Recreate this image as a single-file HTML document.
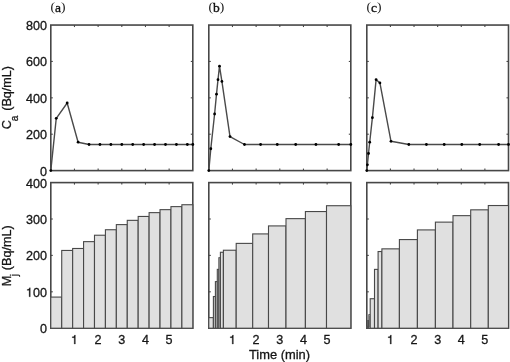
<!DOCTYPE html>
<html><head><meta charset="utf-8"><style>
html,body{margin:0;padding:0;background:#fff;}
body{width:510px;height:362px;overflow:hidden;font-family:"Liberation Sans",sans-serif;}
svg{display:block;will-change:transform;}
</style></head><body>
<svg width="510" height="362" viewBox="0 0 510 362">
<rect width="510" height="362" fill="#fff"/>
<rect x="50.8" y="25.05" width="142" height="145.55" fill="none" stroke="#474747" stroke-width="1.6"/>
<line x1="74.47" y1="170.6" x2="74.47" y2="168.6" stroke="#474747" stroke-width="1.1"/>
<line x1="74.47" y1="25.05" x2="74.47" y2="27.05" stroke="#474747" stroke-width="1.1"/>
<line x1="98.13" y1="170.6" x2="98.13" y2="168.6" stroke="#474747" stroke-width="1.1"/>
<line x1="98.13" y1="25.05" x2="98.13" y2="27.05" stroke="#474747" stroke-width="1.1"/>
<line x1="121.8" y1="170.6" x2="121.8" y2="168.6" stroke="#474747" stroke-width="1.1"/>
<line x1="121.8" y1="25.05" x2="121.8" y2="27.05" stroke="#474747" stroke-width="1.1"/>
<line x1="145.47" y1="170.6" x2="145.47" y2="168.6" stroke="#474747" stroke-width="1.1"/>
<line x1="145.47" y1="25.05" x2="145.47" y2="27.05" stroke="#474747" stroke-width="1.1"/>
<line x1="169.13" y1="170.6" x2="169.13" y2="168.6" stroke="#474747" stroke-width="1.1"/>
<line x1="169.13" y1="25.05" x2="169.13" y2="27.05" stroke="#474747" stroke-width="1.1"/>
<line x1="50.8" y1="134.21" x2="52.8" y2="134.21" stroke="#474747" stroke-width="1.1"/>
<line x1="192.8" y1="134.21" x2="190.8" y2="134.21" stroke="#474747" stroke-width="1.1"/>
<line x1="50.8" y1="97.83" x2="52.8" y2="97.83" stroke="#474747" stroke-width="1.1"/>
<line x1="192.8" y1="97.83" x2="190.8" y2="97.83" stroke="#474747" stroke-width="1.1"/>
<line x1="50.8" y1="61.44" x2="52.8" y2="61.44" stroke="#474747" stroke-width="1.1"/>
<line x1="192.8" y1="61.44" x2="190.8" y2="61.44" stroke="#474747" stroke-width="1.1"/>
<rect x="50.8" y="182.6" width="142" height="145.6" fill="none" stroke="#474747" stroke-width="1.6"/>
<line x1="74.47" y1="328.2" x2="74.47" y2="326.2" stroke="#474747" stroke-width="1.1"/>
<line x1="74.47" y1="182.6" x2="74.47" y2="184.6" stroke="#474747" stroke-width="1.1"/>
<line x1="98.13" y1="328.2" x2="98.13" y2="326.2" stroke="#474747" stroke-width="1.1"/>
<line x1="98.13" y1="182.6" x2="98.13" y2="184.6" stroke="#474747" stroke-width="1.1"/>
<line x1="121.8" y1="328.2" x2="121.8" y2="326.2" stroke="#474747" stroke-width="1.1"/>
<line x1="121.8" y1="182.6" x2="121.8" y2="184.6" stroke="#474747" stroke-width="1.1"/>
<line x1="145.47" y1="328.2" x2="145.47" y2="326.2" stroke="#474747" stroke-width="1.1"/>
<line x1="145.47" y1="182.6" x2="145.47" y2="184.6" stroke="#474747" stroke-width="1.1"/>
<line x1="169.13" y1="328.2" x2="169.13" y2="326.2" stroke="#474747" stroke-width="1.1"/>
<line x1="169.13" y1="182.6" x2="169.13" y2="184.6" stroke="#474747" stroke-width="1.1"/>
<line x1="50.8" y1="291.8" x2="52.8" y2="291.8" stroke="#474747" stroke-width="1.1"/>
<line x1="192.8" y1="291.8" x2="190.8" y2="291.8" stroke="#474747" stroke-width="1.1"/>
<line x1="50.8" y1="255.4" x2="52.8" y2="255.4" stroke="#474747" stroke-width="1.1"/>
<line x1="192.8" y1="255.4" x2="190.8" y2="255.4" stroke="#474747" stroke-width="1.1"/>
<line x1="50.8" y1="219" x2="52.8" y2="219" stroke="#474747" stroke-width="1.1"/>
<line x1="192.8" y1="219" x2="190.8" y2="219" stroke="#474747" stroke-width="1.1"/>
<rect x="208.8" y="25.05" width="142" height="145.55" fill="none" stroke="#474747" stroke-width="1.6"/>
<line x1="232.47" y1="170.6" x2="232.47" y2="168.6" stroke="#474747" stroke-width="1.1"/>
<line x1="232.47" y1="25.05" x2="232.47" y2="27.05" stroke="#474747" stroke-width="1.1"/>
<line x1="256.13" y1="170.6" x2="256.13" y2="168.6" stroke="#474747" stroke-width="1.1"/>
<line x1="256.13" y1="25.05" x2="256.13" y2="27.05" stroke="#474747" stroke-width="1.1"/>
<line x1="279.8" y1="170.6" x2="279.8" y2="168.6" stroke="#474747" stroke-width="1.1"/>
<line x1="279.8" y1="25.05" x2="279.8" y2="27.05" stroke="#474747" stroke-width="1.1"/>
<line x1="303.47" y1="170.6" x2="303.47" y2="168.6" stroke="#474747" stroke-width="1.1"/>
<line x1="303.47" y1="25.05" x2="303.47" y2="27.05" stroke="#474747" stroke-width="1.1"/>
<line x1="327.13" y1="170.6" x2="327.13" y2="168.6" stroke="#474747" stroke-width="1.1"/>
<line x1="327.13" y1="25.05" x2="327.13" y2="27.05" stroke="#474747" stroke-width="1.1"/>
<line x1="208.8" y1="134.21" x2="210.8" y2="134.21" stroke="#474747" stroke-width="1.1"/>
<line x1="350.8" y1="134.21" x2="348.8" y2="134.21" stroke="#474747" stroke-width="1.1"/>
<line x1="208.8" y1="97.83" x2="210.8" y2="97.83" stroke="#474747" stroke-width="1.1"/>
<line x1="350.8" y1="97.83" x2="348.8" y2="97.83" stroke="#474747" stroke-width="1.1"/>
<line x1="208.8" y1="61.44" x2="210.8" y2="61.44" stroke="#474747" stroke-width="1.1"/>
<line x1="350.8" y1="61.44" x2="348.8" y2="61.44" stroke="#474747" stroke-width="1.1"/>
<rect x="208.8" y="182.6" width="142" height="145.6" fill="none" stroke="#474747" stroke-width="1.6"/>
<line x1="232.47" y1="328.2" x2="232.47" y2="326.2" stroke="#474747" stroke-width="1.1"/>
<line x1="232.47" y1="182.6" x2="232.47" y2="184.6" stroke="#474747" stroke-width="1.1"/>
<line x1="256.13" y1="328.2" x2="256.13" y2="326.2" stroke="#474747" stroke-width="1.1"/>
<line x1="256.13" y1="182.6" x2="256.13" y2="184.6" stroke="#474747" stroke-width="1.1"/>
<line x1="279.8" y1="328.2" x2="279.8" y2="326.2" stroke="#474747" stroke-width="1.1"/>
<line x1="279.8" y1="182.6" x2="279.8" y2="184.6" stroke="#474747" stroke-width="1.1"/>
<line x1="303.47" y1="328.2" x2="303.47" y2="326.2" stroke="#474747" stroke-width="1.1"/>
<line x1="303.47" y1="182.6" x2="303.47" y2="184.6" stroke="#474747" stroke-width="1.1"/>
<line x1="327.13" y1="328.2" x2="327.13" y2="326.2" stroke="#474747" stroke-width="1.1"/>
<line x1="327.13" y1="182.6" x2="327.13" y2="184.6" stroke="#474747" stroke-width="1.1"/>
<line x1="208.8" y1="291.8" x2="210.8" y2="291.8" stroke="#474747" stroke-width="1.1"/>
<line x1="350.8" y1="291.8" x2="348.8" y2="291.8" stroke="#474747" stroke-width="1.1"/>
<line x1="208.8" y1="255.4" x2="210.8" y2="255.4" stroke="#474747" stroke-width="1.1"/>
<line x1="350.8" y1="255.4" x2="348.8" y2="255.4" stroke="#474747" stroke-width="1.1"/>
<line x1="208.8" y1="219" x2="210.8" y2="219" stroke="#474747" stroke-width="1.1"/>
<line x1="350.8" y1="219" x2="348.8" y2="219" stroke="#474747" stroke-width="1.1"/>
<rect x="366.8" y="25.05" width="141.7" height="145.55" fill="none" stroke="#474747" stroke-width="1.6"/>
<line x1="390.42" y1="170.6" x2="390.42" y2="168.6" stroke="#474747" stroke-width="1.1"/>
<line x1="390.42" y1="25.05" x2="390.42" y2="27.05" stroke="#474747" stroke-width="1.1"/>
<line x1="414.03" y1="170.6" x2="414.03" y2="168.6" stroke="#474747" stroke-width="1.1"/>
<line x1="414.03" y1="25.05" x2="414.03" y2="27.05" stroke="#474747" stroke-width="1.1"/>
<line x1="437.65" y1="170.6" x2="437.65" y2="168.6" stroke="#474747" stroke-width="1.1"/>
<line x1="437.65" y1="25.05" x2="437.65" y2="27.05" stroke="#474747" stroke-width="1.1"/>
<line x1="461.27" y1="170.6" x2="461.27" y2="168.6" stroke="#474747" stroke-width="1.1"/>
<line x1="461.27" y1="25.05" x2="461.27" y2="27.05" stroke="#474747" stroke-width="1.1"/>
<line x1="484.88" y1="170.6" x2="484.88" y2="168.6" stroke="#474747" stroke-width="1.1"/>
<line x1="484.88" y1="25.05" x2="484.88" y2="27.05" stroke="#474747" stroke-width="1.1"/>
<line x1="366.8" y1="134.21" x2="368.8" y2="134.21" stroke="#474747" stroke-width="1.1"/>
<line x1="508.5" y1="134.21" x2="506.5" y2="134.21" stroke="#474747" stroke-width="1.1"/>
<line x1="366.8" y1="97.83" x2="368.8" y2="97.83" stroke="#474747" stroke-width="1.1"/>
<line x1="508.5" y1="97.83" x2="506.5" y2="97.83" stroke="#474747" stroke-width="1.1"/>
<line x1="366.8" y1="61.44" x2="368.8" y2="61.44" stroke="#474747" stroke-width="1.1"/>
<line x1="508.5" y1="61.44" x2="506.5" y2="61.44" stroke="#474747" stroke-width="1.1"/>
<rect x="366.8" y="182.6" width="141.7" height="145.6" fill="none" stroke="#474747" stroke-width="1.6"/>
<line x1="390.42" y1="328.2" x2="390.42" y2="326.2" stroke="#474747" stroke-width="1.1"/>
<line x1="390.42" y1="182.6" x2="390.42" y2="184.6" stroke="#474747" stroke-width="1.1"/>
<line x1="414.03" y1="328.2" x2="414.03" y2="326.2" stroke="#474747" stroke-width="1.1"/>
<line x1="414.03" y1="182.6" x2="414.03" y2="184.6" stroke="#474747" stroke-width="1.1"/>
<line x1="437.65" y1="328.2" x2="437.65" y2="326.2" stroke="#474747" stroke-width="1.1"/>
<line x1="437.65" y1="182.6" x2="437.65" y2="184.6" stroke="#474747" stroke-width="1.1"/>
<line x1="461.27" y1="328.2" x2="461.27" y2="326.2" stroke="#474747" stroke-width="1.1"/>
<line x1="461.27" y1="182.6" x2="461.27" y2="184.6" stroke="#474747" stroke-width="1.1"/>
<line x1="484.88" y1="328.2" x2="484.88" y2="326.2" stroke="#474747" stroke-width="1.1"/>
<line x1="484.88" y1="182.6" x2="484.88" y2="184.6" stroke="#474747" stroke-width="1.1"/>
<line x1="366.8" y1="291.8" x2="368.8" y2="291.8" stroke="#474747" stroke-width="1.1"/>
<line x1="508.5" y1="291.8" x2="506.5" y2="291.8" stroke="#474747" stroke-width="1.1"/>
<line x1="366.8" y1="255.4" x2="368.8" y2="255.4" stroke="#474747" stroke-width="1.1"/>
<line x1="508.5" y1="255.4" x2="506.5" y2="255.4" stroke="#474747" stroke-width="1.1"/>
<line x1="366.8" y1="219" x2="368.8" y2="219" stroke="#474747" stroke-width="1.1"/>
<line x1="508.5" y1="219" x2="506.5" y2="219" stroke="#474747" stroke-width="1.1"/>
<rect x="50.8" y="297.08" width="10.92" height="31.12" fill="#e0e0e0" stroke="#484848" stroke-width="1.1"/>
<rect x="61.72" y="250.45" width="10.92" height="77.75" fill="#e0e0e0" stroke="#484848" stroke-width="1.1"/>
<rect x="72.65" y="248.48" width="10.92" height="79.72" fill="#e0e0e0" stroke="#484848" stroke-width="1.1"/>
<rect x="83.57" y="241.64" width="10.92" height="86.56" fill="#e0e0e0" stroke="#484848" stroke-width="1.1"/>
<rect x="94.49" y="235.23" width="10.92" height="92.97" fill="#e0e0e0" stroke="#484848" stroke-width="1.1"/>
<rect x="105.42" y="229.74" width="10.92" height="98.46" fill="#e0e0e0" stroke="#484848" stroke-width="1.1"/>
<rect x="116.34" y="224.61" width="10.92" height="103.59" fill="#e0e0e0" stroke="#484848" stroke-width="1.1"/>
<rect x="127.26" y="220.35" width="10.92" height="107.85" fill="#e0e0e0" stroke="#484848" stroke-width="1.1"/>
<rect x="138.18" y="216.45" width="10.92" height="111.75" fill="#e0e0e0" stroke="#484848" stroke-width="1.1"/>
<rect x="149.11" y="212.63" width="10.92" height="115.57" fill="#e0e0e0" stroke="#484848" stroke-width="1.1"/>
<rect x="160.03" y="209.65" width="10.92" height="118.55" fill="#e0e0e0" stroke="#484848" stroke-width="1.1"/>
<rect x="170.95" y="206.62" width="10.92" height="121.58" fill="#e0e0e0" stroke="#484848" stroke-width="1.1"/>
<rect x="181.88" y="204.73" width="10.92" height="123.47" fill="#e0e0e0" stroke="#484848" stroke-width="1.1"/>
<rect x="208.8" y="317.64" width="4.6" height="10.56" fill="#e0e0e0" stroke="#484848" stroke-width="1.1"/>
<rect x="213.4" y="296.53" width="2" height="31.67" fill="#e0e0e0" stroke="#484848" stroke-width="1.1"/>
<rect x="215.4" y="281.61" width="1.9" height="46.59" fill="#e0e0e0" stroke="#484848" stroke-width="1.1"/>
<rect x="217.3" y="269.38" width="1.6" height="58.82" fill="#e0e0e0" stroke="#484848" stroke-width="1.1"/>
<rect x="218.9" y="257.77" width="1.5" height="70.43" fill="#e0e0e0" stroke="#484848" stroke-width="1.1"/>
<rect x="220.4" y="252.27" width="3" height="75.93" fill="#e0e0e0" stroke="#484848" stroke-width="1.1"/>
<rect x="223.4" y="250.23" width="12.8" height="77.97" fill="#e0e0e0" stroke="#484848" stroke-width="1.1"/>
<rect x="236.2" y="243.39" width="16.5" height="84.81" fill="#e0e0e0" stroke="#484848" stroke-width="1.1"/>
<rect x="252.7" y="233.92" width="15.8" height="94.28" fill="#e0e0e0" stroke="#484848" stroke-width="1.1"/>
<rect x="268.5" y="225.92" width="17.5" height="102.28" fill="#e0e0e0" stroke="#484848" stroke-width="1.1"/>
<rect x="286" y="218.64" width="19.4" height="109.56" fill="#e0e0e0" stroke="#484848" stroke-width="1.1"/>
<rect x="305.4" y="211.54" width="21.1" height="116.66" fill="#e0e0e0" stroke="#484848" stroke-width="1.1"/>
<rect x="326.5" y="205.71" width="24.3" height="122.49" fill="#e0e0e0" stroke="#484848" stroke-width="1.1"/>
<rect x="366.8" y="326.38" width="1" height="1.82" fill="#e0e0e0" stroke="#484848" stroke-width="1.1"/>
<rect x="367.8" y="320.56" width="1.1" height="7.64" fill="#e0e0e0" stroke="#484848" stroke-width="1.1"/>
<rect x="368.9" y="314.73" width="1.3" height="13.47" fill="#e0e0e0" stroke="#484848" stroke-width="1.1"/>
<rect x="370.2" y="298.72" width="4.3" height="29.48" fill="#e0e0e0" stroke="#484848" stroke-width="1.1"/>
<rect x="374.5" y="269.38" width="3.6" height="58.82" fill="#e0e0e0" stroke="#484848" stroke-width="1.1"/>
<rect x="378.1" y="251.54" width="3.8" height="76.66" fill="#e0e0e0" stroke="#484848" stroke-width="1.1"/>
<rect x="381.9" y="248.85" width="17.5" height="79.35" fill="#e0e0e0" stroke="#484848" stroke-width="1.1"/>
<rect x="399.4" y="239.57" width="18" height="88.63" fill="#e0e0e0" stroke="#484848" stroke-width="1.1"/>
<rect x="417.4" y="229.92" width="18" height="98.28" fill="#e0e0e0" stroke="#484848" stroke-width="1.1"/>
<rect x="435.4" y="222.13" width="17.6" height="106.07" fill="#e0e0e0" stroke="#484848" stroke-width="1.1"/>
<rect x="453" y="215.65" width="17.7" height="112.55" fill="#e0e0e0" stroke="#484848" stroke-width="1.1"/>
<rect x="470.7" y="209.83" width="17.6" height="118.37" fill="#e0e0e0" stroke="#484848" stroke-width="1.1"/>
<rect x="488.3" y="205.53" width="20.2" height="122.67" fill="#e0e0e0" stroke="#484848" stroke-width="1.1"/>
<path d="M50.8 170.6 L56.26 118.29 L67.18 102.99 L78.11 142.22 L89.03 144.49 L99.95 144.49 L110.88 144.49 L121.8 144.49 L132.72 144.49 L143.65 144.49 L154.57 144.49 L165.49 144.49 L176.42 144.49 L187.34 144.49 L192.8 144.49" fill="none" stroke="#4a4a4a" stroke-width="1.4" stroke-linejoin="round"/>
<circle cx="50.8" cy="170.6" r="1.4" fill="#000"/>
<circle cx="56.26" cy="118.29" r="1.4" fill="#000"/>
<circle cx="67.18" cy="102.99" r="1.4" fill="#000"/>
<circle cx="78.11" cy="142.22" r="1.4" fill="#000"/>
<circle cx="89.03" cy="144.49" r="1.4" fill="#000"/>
<circle cx="99.95" cy="144.49" r="1.4" fill="#000"/>
<circle cx="110.88" cy="144.49" r="1.4" fill="#000"/>
<circle cx="121.8" cy="144.49" r="1.4" fill="#000"/>
<circle cx="132.72" cy="144.49" r="1.4" fill="#000"/>
<circle cx="143.65" cy="144.49" r="1.4" fill="#000"/>
<circle cx="154.57" cy="144.49" r="1.4" fill="#000"/>
<circle cx="165.49" cy="144.49" r="1.4" fill="#000"/>
<circle cx="176.42" cy="144.49" r="1.4" fill="#000"/>
<circle cx="187.34" cy="144.49" r="1.4" fill="#000"/>
<circle cx="192.8" cy="144.49" r="1.4" fill="#000"/>
<path d="M208.8 170.6 L210.8 148.77 L214.6 114.02 L216.5 94.19 L218 79.63 L219.5 66.17 L221.9 81.45 L230 136.58 L244.45 144.49 L260.6 144.49 L277.25 144.49 L295.7 144.49 L315.95 144.49 L338.65 144.49 L350.8 144.49" fill="none" stroke="#4a4a4a" stroke-width="1.4" stroke-linejoin="round"/>
<circle cx="208.8" cy="170.6" r="1.4" fill="#000"/>
<circle cx="210.8" cy="148.77" r="1.4" fill="#000"/>
<circle cx="214.6" cy="114.02" r="1.4" fill="#000"/>
<circle cx="216.5" cy="94.19" r="1.4" fill="#000"/>
<circle cx="218" cy="79.63" r="1.4" fill="#000"/>
<circle cx="219.5" cy="66.17" r="1.4" fill="#000"/>
<circle cx="221.9" cy="81.45" r="1.4" fill="#000"/>
<circle cx="230" cy="136.58" r="1.4" fill="#000"/>
<circle cx="244.45" cy="144.49" r="1.4" fill="#000"/>
<circle cx="260.6" cy="144.49" r="1.4" fill="#000"/>
<circle cx="277.25" cy="144.49" r="1.4" fill="#000"/>
<circle cx="295.7" cy="144.49" r="1.4" fill="#000"/>
<circle cx="315.95" cy="144.49" r="1.4" fill="#000"/>
<circle cx="338.65" cy="144.49" r="1.4" fill="#000"/>
<circle cx="350.8" cy="144.49" r="1.4" fill="#000"/>
<path d="M366.8 170.6 L367.4 164.78 L368.5 153.5 L369.7 142.22 L372.4 117.66 L376.1 79.63 L379.9 82.91 L391 141.31 L408.8 144.49 L426.4 144.49 L444.2 144.49 L461.8 144.49 L479.7 144.49 L498.6 144.49 L508.5 144.49" fill="none" stroke="#4a4a4a" stroke-width="1.4" stroke-linejoin="round"/>
<circle cx="366.8" cy="170.6" r="1.4" fill="#000"/>
<circle cx="367.4" cy="164.78" r="1.4" fill="#000"/>
<circle cx="368.5" cy="153.5" r="1.4" fill="#000"/>
<circle cx="369.7" cy="142.22" r="1.4" fill="#000"/>
<circle cx="372.4" cy="117.66" r="1.4" fill="#000"/>
<circle cx="376.1" cy="79.63" r="1.4" fill="#000"/>
<circle cx="379.9" cy="82.91" r="1.4" fill="#000"/>
<circle cx="391" cy="141.31" r="1.4" fill="#000"/>
<circle cx="408.8" cy="144.49" r="1.4" fill="#000"/>
<circle cx="426.4" cy="144.49" r="1.4" fill="#000"/>
<circle cx="444.2" cy="144.49" r="1.4" fill="#000"/>
<circle cx="461.8" cy="144.49" r="1.4" fill="#000"/>
<circle cx="479.7" cy="144.49" r="1.4" fill="#000"/>
<circle cx="498.6" cy="144.49" r="1.4" fill="#000"/>
<circle cx="508.5" cy="144.49" r="1.4" fill="#000"/>
<text x="46.9" y="175.5" font-size="12.6" text-anchor="end" font-family="Liberation Sans, sans-serif" fill="#161616" stroke="#161616" stroke-width="0.3">0</text>
<text x="46.9" y="139.11" font-size="12.6" text-anchor="end" font-family="Liberation Sans, sans-serif" fill="#161616" stroke="#161616" stroke-width="0.3">200</text>
<text x="46.9" y="102.73" font-size="12.6" text-anchor="end" font-family="Liberation Sans, sans-serif" fill="#161616" stroke="#161616" stroke-width="0.3">400</text>
<text x="46.9" y="66.34" font-size="12.6" text-anchor="end" font-family="Liberation Sans, sans-serif" fill="#161616" stroke="#161616" stroke-width="0.3">600</text>
<text x="46.9" y="29.95" font-size="12.6" text-anchor="end" font-family="Liberation Sans, sans-serif" fill="#161616" stroke="#161616" stroke-width="0.3">800</text>
<text x="46.9" y="333.1" font-size="12.6" text-anchor="end" font-family="Liberation Sans, sans-serif" fill="#161616" stroke="#161616" stroke-width="0.3">0</text>
<text x="46.9" y="296.7" font-size="12.6" text-anchor="end" font-family="Liberation Sans, sans-serif" fill="#161616" stroke="#161616" stroke-width="0.3">00</text>
<path d="M259 505H102V568Q204 581 235 604Q266 627 289 709H347V0H259Z" fill="#161616" stroke="#161616" stroke-width="24" transform="translate(25.88 296.7) scale(0.0126 -0.0126)"/>
<text x="46.9" y="260.3" font-size="12.6" text-anchor="end" font-family="Liberation Sans, sans-serif" fill="#161616" stroke="#161616" stroke-width="0.3">200</text>
<text x="46.9" y="223.9" font-size="12.6" text-anchor="end" font-family="Liberation Sans, sans-serif" fill="#161616" stroke="#161616" stroke-width="0.3">300</text>
<text x="46.9" y="187.5" font-size="12.6" text-anchor="end" font-family="Liberation Sans, sans-serif" fill="#161616" stroke="#161616" stroke-width="0.3">400</text>
<path d="M259 505H102V568Q204 581 235 604Q266 627 289 709H347V0H259Z" fill="#161616" stroke="#161616" stroke-width="24" transform="translate(70.96 344) scale(0.0126 -0.0126)"/>
<text x="98.13" y="344" font-size="12.6" text-anchor="middle" font-family="Liberation Sans, sans-serif" fill="#161616" stroke="#161616" stroke-width="0.3">2</text>
<text x="121.8" y="344" font-size="12.6" text-anchor="middle" font-family="Liberation Sans, sans-serif" fill="#161616" stroke="#161616" stroke-width="0.3">3</text>
<text x="145.47" y="344" font-size="12.6" text-anchor="middle" font-family="Liberation Sans, sans-serif" fill="#161616" stroke="#161616" stroke-width="0.3">4</text>
<text x="169.13" y="344" font-size="12.6" text-anchor="middle" font-family="Liberation Sans, sans-serif" fill="#161616" stroke="#161616" stroke-width="0.3">5</text>
<path d="M259 505H102V568Q204 581 235 604Q266 627 289 709H347V0H259Z" fill="#161616" stroke="#161616" stroke-width="24" transform="translate(228.96 344) scale(0.0126 -0.0126)"/>
<text x="256.13" y="344" font-size="12.6" text-anchor="middle" font-family="Liberation Sans, sans-serif" fill="#161616" stroke="#161616" stroke-width="0.3">2</text>
<text x="279.8" y="344" font-size="12.6" text-anchor="middle" font-family="Liberation Sans, sans-serif" fill="#161616" stroke="#161616" stroke-width="0.3">3</text>
<text x="303.47" y="344" font-size="12.6" text-anchor="middle" font-family="Liberation Sans, sans-serif" fill="#161616" stroke="#161616" stroke-width="0.3">4</text>
<text x="327.13" y="344" font-size="12.6" text-anchor="middle" font-family="Liberation Sans, sans-serif" fill="#161616" stroke="#161616" stroke-width="0.3">5</text>
<path d="M259 505H102V568Q204 581 235 604Q266 627 289 709H347V0H259Z" fill="#161616" stroke="#161616" stroke-width="24" transform="translate(386.91 344) scale(0.0126 -0.0126)"/>
<text x="414.03" y="344" font-size="12.6" text-anchor="middle" font-family="Liberation Sans, sans-serif" fill="#161616" stroke="#161616" stroke-width="0.3">2</text>
<text x="437.65" y="344" font-size="12.6" text-anchor="middle" font-family="Liberation Sans, sans-serif" fill="#161616" stroke="#161616" stroke-width="0.3">3</text>
<text x="461.27" y="344" font-size="12.6" text-anchor="middle" font-family="Liberation Sans, sans-serif" fill="#161616" stroke="#161616" stroke-width="0.3">4</text>
<text x="484.88" y="344" font-size="12.6" text-anchor="middle" font-family="Liberation Sans, sans-serif" fill="#161616" stroke="#161616" stroke-width="0.3">5</text>
<text x="279.5" y="358.8" font-size="12.9" text-anchor="middle" font-family="Liberation Sans, sans-serif" fill="#161616" stroke="#161616" stroke-width="0.3">Time (min)</text>
<text transform="translate(10.6 97.62) rotate(-90)" font-size="12.6" text-anchor="middle" font-family="Liberation Sans, sans-serif" fill="#161616" stroke="#161616" stroke-width="0.3">C<tspan font-size="10" dx="-1.1" dy="7.3">a</tspan><tspan dx="4.9" dy="-7.3">(Bq/mL)</tspan></text>
<text transform="translate(10.6 255.8) rotate(-90)" font-size="12.6" text-anchor="middle" font-family="Liberation Sans, sans-serif" fill="#161616" stroke="#161616" stroke-width="0.3">M<tspan font-size="10" dx="-0.4" dy="7.3">j</tspan><tspan dx="3.8" dy="-7.3">(Bq/mL)</tspan></text>
<text x="50.6" y="11.8" font-size="13.5" font-family="Liberation Serif, serif" fill="#161616"><tspan dy="-0.7">(</tspan><tspan dy="0.7" stroke="#161616" stroke-width="0.35">a</tspan><tspan dy="-0.7">)</tspan></text>
<text x="208.6" y="11.8" font-size="13.5" font-family="Liberation Serif, serif" fill="#161616"><tspan dy="-0.7">(</tspan><tspan dy="0.7" stroke="#161616" stroke-width="0.35">b</tspan><tspan dy="-0.7">)</tspan></text>
<text x="366.6" y="11.8" font-size="13.5" font-family="Liberation Serif, serif" fill="#161616"><tspan dy="-0.7">(</tspan><tspan dy="0.7" stroke="#161616" stroke-width="0.35">c</tspan><tspan dy="-0.7">)</tspan></text>
</svg>
</body></html>
